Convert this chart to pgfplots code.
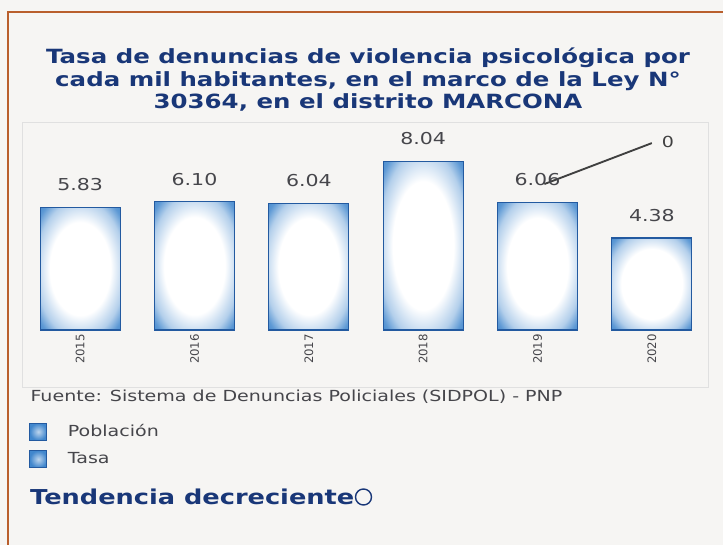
\documentclass[border=0pt]{standalone}
\usepackage{fontspec}
\setmainfont{DejaVu Sans}
\newfontfamily\widesans[FakeStretch=1.25]{DejaVu Sans}
\usepackage{pgfplots}
\pgfplotsset{compat=1.18}

\definecolor{barblue}{RGB}{65,135,205}
\definecolor{barline}{RGB}{35,90,160}
\definecolor{titleblue}{RGB}{25,55,120}
\definecolor{paper}{RGB}{246,245,243}
\definecolor{frameorange}{RGB}{185,95,45}
\definecolor{labelgray}{RGB}{70,70,75}

% the bar's edge midpoints fall at about 35bp of this shading, its corners at 50bp
\pgfdeclareradialshading{barglow}{\pgfpoint{0bp}{0bp}}{color(0bp)=(white); color(19bp)=(white); color(28bp)=(barblue!40); color(33bp)=(barblue!85); color(37bp)=(barblue); color(50bp)=(barblue)}

\pgfplotsset{
    barstyle/.style={ybar, bar width=2.4cm, bar shift=0pt, draw=barline, line width=1pt,
        shade, shading=barglow,
        legend image code/.code={\draw[draw=barline, line width=0.8pt, inner color=barblue!35, outer color=barblue] (0cm,-0.25cm) rectangle (0.5cm,0.25cm); \path (1.05cm,0);}},
}

\begin{document}
\begin{tikzpicture}
\useasboundingbox (-0.69,-6.45) rectangle (21.0,9.9);
\fill[paper] (-0.69,-6.45) rectangle (21.0,9.9);
\draw[frameorange, line width=1.2pt] (21.0,9.54) -- (-0.45,9.54) -- (-0.45,-6.45);
\draw[black!12] (-0.03,6.24) rectangle (20.55,-1.71);

\begin{axis}[
    at={(0,0)}, anchor=south west,
    scale only axis,
    width=20.58cm, height=5.922cm,
    xmin=-0.5, xmax=5.5, ymin=0, ymax=9.4,
    clip=false,
    axis line style={draw=none},
    ytick=\empty,
    xtick={0,1,2,3,4,5},
    xticklabels={2015,2016,2017,2018,2019,2020},
    major tick length=0pt,
    xticklabel style={rotate=90, anchor=east, font=\fontsize{10}{10}\selectfont, text=labelgray},
    /pgf/number format/.cd, fixed, zerofill, precision=2, assume math mode=true,
    /pgfplots/.cd,
    nodes near coords,
    nodes near coords style={font=\widesans\fontsize{14}{14}\selectfont, text=labelgray, anchor=south, inner sep=0pt, yshift=0.48cm},
    legend style={draw=none, fill=none, at={(0.004,-0.455)}, anchor=north west,
        font=\widesans\fontsize{13}{13}\selectfont, text=labelgray, row sep=8pt},
    legend cell align=left,
]
\addlegendimage{barstyle}
\addlegendentry{Población}
\addplot[barstyle] coordinates {(0,5.83)};
\addlegendentry{Tasa}
\addplot[barstyle, forget plot] coordinates {(1,6.10)};
\addplot[barstyle, forget plot] coordinates {(2,6.04)};
\addplot[barstyle, forget plot] coordinates {(3,8.04)};
\addplot[barstyle, forget plot] coordinates {(4,6.06)};
\addplot[barstyle, forget plot] coordinates {(5,4.38)};

\draw[line width=1.6pt, black!75] (axis cs:4.06,6.95) -- (axis cs:5.0,8.9);
\node[font=\widesans\fontsize{13}{13}\selectfont, text=black!75] at (axis cs:5.14,8.95) {0};
\end{axis}

\node[align=center, font=\widesans\bfseries\fontsize{16.7}{19.2}\selectfont, text=titleblue] at (10.35,7.5)
    {Tasa de denuncias de violencia psicológica por\\cada mil habitantes, en el marco de la Ley N°\\30364, en el distrito MARCONA};
\node[anchor=west, inner sep=0pt, font=\widesans\fontsize{13}{13}\selectfont, text=labelgray] at (0.22,-2.01)
    {Fuente: Sistema de Denuncias Policiales (SIDPOL) - PNP};
\node[anchor=west, inner sep=0pt, font=\widesans\bfseries\fontsize{17.5}{17.5}\selectfont, text=titleblue] (tend) at (0.21,-5.01)
    {Tendencia decreciente};
\draw[titleblue, very thick] ([xshift=0.27cm]tend.east) circle (0.24cm);
\end{tikzpicture}
\end{document}
